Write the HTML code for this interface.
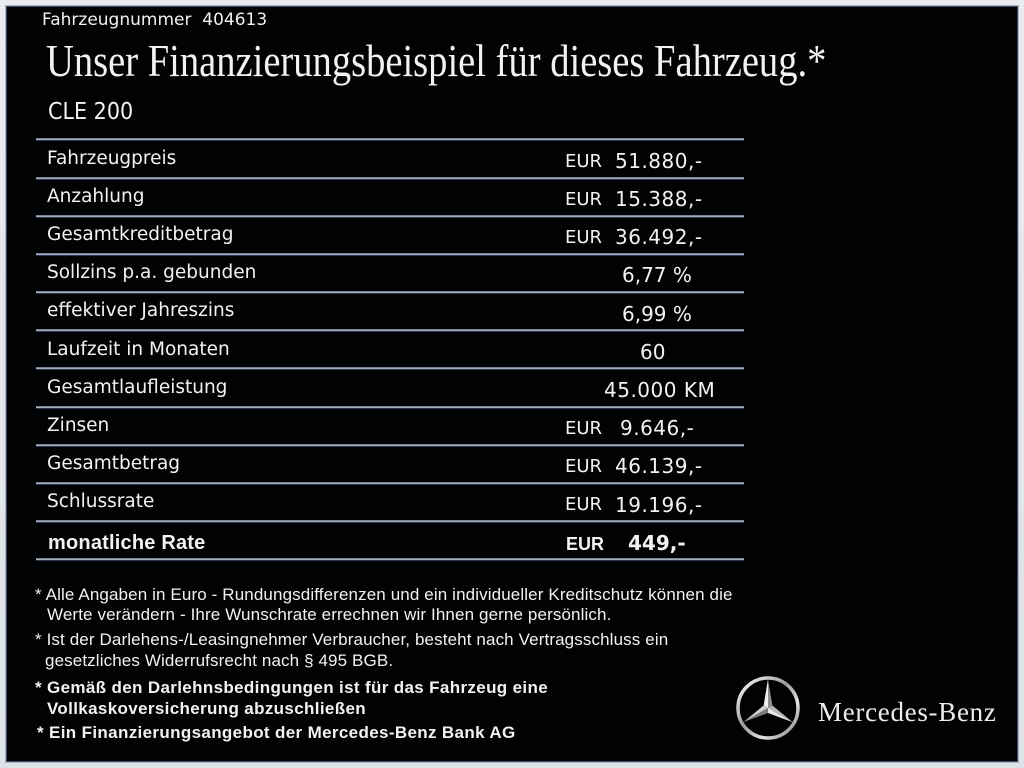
<!DOCTYPE html>
<html>
<head>
<meta charset="utf-8">
<style>
  html,body{margin:0;padding:0;}
  body{width:1024px;height:768px;position:relative;overflow:hidden;
    background:linear-gradient(to bottom,#e9ecef 0%,#dde2e7 100%);}
  .panel{position:absolute;left:7px;top:7px;width:1010px;height:754px;background:#010204;
    box-shadow:0 0 0 1px #3a4a66,0 0 0 2px #a9b4c3;}
  .t{position:absolute;white-space:pre;line-height:1;color:#f2f2f2;}
  .dj{font-family:"DejaVu Sans","Liberation Sans",sans-serif;}
  .lab{font-size:18.5px;left:47px;}
  .eur{font-size:18px;left:565px;}
  .val{font-size:20px;letter-spacing:0.5px;}
  .ln{position:absolute;left:36px;width:708px;height:3px;
    background:linear-gradient(to bottom,#7a8496 0,#7a8496 33%,#a4adba 34%,#a4adba 66%,#2b3852 67%,#2b3852 100%);}
  .fn{font-family:"Liberation Sans",Arial,sans-serif;font-size:17px;letter-spacing:0.12px;}
  .fb{font-family:"Liberation Sans",Arial,sans-serif;font-size:17px;font-weight:bold;letter-spacing:0.35px;}
</style>
</head>
<body>
<div class="panel"></div>

<div class="t dj" style="left:42px;top:12.3px;font-size:17px;">Fahrzeugnummer  404613</div>
<div class="t" style="left:46px;top:37.5px;font-family:'Liberation Serif',serif;font-size:46px;transform:scaleX(0.838);transform-origin:0 0;">Unser Finanzierungsbeispiel für dieses Fahrzeug.*</div>
<div class="t dj" style="left:48px;top:100.5px;font-size:23px;transform:scaleX(0.9);transform-origin:0 0;">CLE 200</div>

<!-- lines -->
<div class="ln" style="top:138.3px"></div>
<div class="ln" style="top:176.5px"></div>
<div class="ln" style="top:214.7px"></div>
<div class="ln" style="top:252.8px"></div>
<div class="ln" style="top:291px"></div>
<div class="ln" style="top:329.2px"></div>
<div class="ln" style="top:367.4px"></div>
<div class="ln" style="top:405.6px"></div>
<div class="ln" style="top:443.7px"></div>
<div class="ln" style="top:481.9px"></div>
<div class="ln" style="top:520.1px"></div>
<div class="ln" style="top:558.3px"></div>

<!-- labels -->
<div class="t dj lab" style="top:149.7px">Fahrzeugpreis</div>
<div class="t dj lab" style="top:187.9px">Anzahlung</div>
<div class="t dj lab" style="top:226px">Gesamtkreditbetrag</div>
<div class="t dj lab" style="top:264.2px">Sollzins p.a. gebunden</div>
<div class="t dj lab" style="top:302.4px">effektiver Jahreszins</div>
<div class="t dj lab" style="top:340.5px">Laufzeit in Monaten</div>
<div class="t dj lab" style="top:378.7px">Gesamtlaufleistung</div>
<div class="t dj lab" style="top:416.9px">Zinsen</div>
<div class="t dj lab" style="top:455.1px">Gesamtbetrag</div>
<div class="t dj lab" style="top:493.3px">Schlussrate</div>
<div class="t" style="left:48px;top:533.4px;font-family:'Liberation Sans',Arial,sans-serif;font-weight:bold;font-size:20px;letter-spacing:0.2px;">monatliche Rate</div>

<!-- values -->
<div class="t dj eur" style="top:152.6px">EUR</div>
<div class="t dj val" style="left:615px;top:150.9px">51.880,-</div>
<div class="t dj eur" style="top:190.8px">EUR</div>
<div class="t dj val" style="left:615px;top:189.1px">15.388,-</div>
<div class="t dj eur" style="top:229px">EUR</div>
<div class="t dj val" style="left:615px;top:227.3px">36.492,-</div>
<div class="t dj val" style="left:622px;top:265.4px;letter-spacing:0;">6,77 %</div>
<div class="t dj val" style="left:622px;top:303.6px;letter-spacing:0;">6,99 %</div>
<div class="t dj val" style="left:640px;top:341.8px;letter-spacing:0;">60</div>
<div class="t dj val" style="left:604px;top:380px;">45.000 KM</div>
<div class="t dj eur" style="top:419.9px">EUR</div>
<div class="t dj val" style="left:620px;top:418.2px">9.646,-</div>
<div class="t dj eur" style="top:458px">EUR</div>
<div class="t dj val" style="left:615px;top:456.3px">46.139,-</div>
<div class="t dj eur" style="top:496.2px">EUR</div>
<div class="t dj val" style="left:615px;top:494.5px">19.196,-</div>
<div class="t" style="left:566px;top:534.8px;font-family:'Liberation Sans',Arial,sans-serif;font-weight:bold;font-size:18px;">EUR</div>
<div class="t dj" style="left:628px;top:533.1px;font-size:20px;font-weight:bold;">449,-</div>

<!-- footnotes -->
<div class="t fn" style="left:35px;top:585.6px">* Alle Angaben in Euro - Rundungsdifferenzen und ein individueller Kreditschutz können die</div>
<div class="t fn" style="left:47px;top:606.1px">Werte verändern - Ihre Wunschrate errechnen wir Ihnen gerne persönlich.</div>
<div class="t fn" style="left:35px;top:630.6px">* Ist der Darlehens-/Leasingnehmer Verbraucher, besteht nach Vertragsschluss ein</div>
<div class="t fn" style="left:45px;top:652.3px">gesetzliches Widerrufsrecht nach § 495 BGB.</div>
<div class="t fb" style="left:35px;top:678.9px">* Gemäß den Darlehnsbedingungen ist für das Fahrzeug eine</div>
<div class="t fb" style="left:47px;top:699.6px">Vollkaskoversicherung abzuschließen</div>
<div class="t fb" style="left:37px;top:723.9px">* Ein Finanzierungsangebot der Mercedes-Benz Bank AG</div>

<!-- logo -->
<svg style="position:absolute;left:728px;top:668px;" width="80" height="80" viewBox="0 0 80 80">
  <defs>
    <linearGradient id="rg" x1="0" y1="0" x2="1" y2="1">
      <stop offset="0" stop-color="#ffffff"/>
      <stop offset="0.45" stop-color="#9c9c9c"/>
      <stop offset="0.7" stop-color="#e6e6e6"/>
      <stop offset="1" stop-color="#6e6e6e"/>
    </linearGradient>
  </defs>
  <circle cx="40" cy="40" r="30" fill="none" stroke="url(#rg)" stroke-width="3.5"/>
  <polygon points="40,40 40,11 35.67,37.5" fill="#f2f2f2"/>
  <polygon points="40,40 40,11 44.33,37.5" fill="#8e8e8e"/>
  <polygon points="40,40 15.2,54.3 35.67,37.5" fill="#d0d0d0"/>
  <polygon points="40,40 15.2,54.3 40,45" fill="#7a7a7a"/>
  <polygon points="40,40 64.8,54.3 44.33,37.5" fill="#b8b8b8"/>
  <polygon points="40,40 64.8,54.3 40,45" fill="#e8e8e8"/>
</svg>
<div class="t" style="left:818px;top:699.4px;font-family:'Liberation Serif',serif;font-size:27px;letter-spacing:0.7px;color:#ececec;">Mercedes-Benz</div>
</body>
</html>
